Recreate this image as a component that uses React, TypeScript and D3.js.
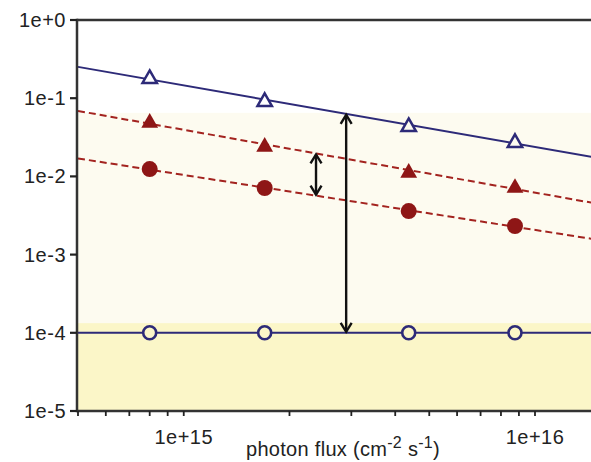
import React from "react"
import * as d3 from "d3"

// photon flux (cm^-2 s^-1) for every series
const flux = [8.0e14, 1.7e15, 4.37e15, 8.77e15]

// open triangles / filled triangles / filled circles / open circles
const openTri = [0.181, 0.092, 0.044, 0.0275]
const fillTri = [0.0496, 0.0245, 0.0114, 0.0073]
const fillCirc = [0.0124, 0.0071, 0.0036, 0.00232]
const openCirc = [1e-4, 1e-4, 1e-4, 1e-4]

const yTicks = [1, 1e-1, 1e-2, 1e-3, 1e-4, 1e-5]
const yTickLabels = ["1e+0", "1e-1", "1e-2", "1e-3", "1e-4", "1e-5"]
const xTicks = [1e15, 1e16]
const xTickLabels = ["1e+15", "1e+16"]
const xMinor = [5e14, 6e14, 7e14, 8e14, 9e14, 2e15, 3e15, 4e15, 5e15, 6e15, 7e15, 8e15, 9e15]

// shaded bands (value space)
const bandCream = [1.33e-4, 0.065]
const bandYellow = [1e-5, 1.33e-4]

// arrows: x position
const arrowLong = 2.9e15
const arrowShort = 2.38e15

const W = 591
const H = 462
const L = 77
const T = 20
const B = 411

const navy = "#2d2a78"
const red = "#8e1616"
const dashRed = "#a3231f"

// least squares in log-log space
const fit = (xs: number[], ys: number[]) => {
  const lx = xs.map(Math.log10)
  const ly = ys.map(Math.log10)
  const mx = d3.mean(lx) as number
  const my = d3.mean(ly) as number
  let num = 0
  let den = 0
  lx.forEach((v, i) => {
    num += (v - mx) * (ly[i] - my)
    den += (v - mx) * (v - mx)
  })
  const b = den === 0 ? 0 : num / den
  return (x: number) => Math.pow(10, my + b * (Math.log10(x) - mx))
}

export default function App() {
  const x = d3.scaleLog().domain([5e14, 1e16]).range([78, 535])
  const y = d3.scaleLog().domain([1e-5, 1]).range([B, T])

  const xEnd = x.invert(W + 5)
  const xs = [5e14, xEnd]

  const fTri = fit(flux, openTri)
  const fFTri = fit(flux, fillTri)
  const fFCirc = fit(flux, fillCirc)
  const fOCirc = fit(flux, openCirc)

  const line = (f: (v: number) => number) =>
    d3.line<number>().x(d => x(d)).y(d => y(f(d)))(xs) as string

  const bgAt = (v: number) =>
    v < bandCream[0] ? "#fbf6c8" : v < bandCream[1] ? "#fdfbf0" : "#ffffff"

  const tri = (cx: number, cy: number, s: number) =>
    `M${cx},${cy - s * 0.85} L${cx + s * 0.8},${cy + s * 0.55} L${cx - s * 0.8},${cy + s * 0.55} Z`

  const arrow = (xv: number, top: number, bot: number, k: string) => {
    const ax = x(xv)
    const y1 = y(top) + 1
    const y2 = y(bot) - 1
    const h = 9
    const w = 5.5
    return (
      <g key={k} stroke="#111" strokeWidth={2.4} fill="none">
        <line x1={ax} x2={ax} y1={y1} y2={y2} />
        <path d={`M${ax - w},${y1 + h} L${ax},${y1} L${ax + w},${y1 + h}`} />
        <path d={`M${ax - w},${y2 - h} L${ax},${y2} L${ax + w},${y2 - h}`} />
      </g>
    )
  }

  const font = "'Liberation Sans', Arial, sans-serif"
  const fs = 20

  return (
    <svg width={W} height={H} style={{ position: "absolute", left: 0, top: 0, display: "block" }}
      fontFamily={font}>
      <defs>
        <clipPath id="plot">
          <rect x={L} y={T} width={W - L} height={B - T} />
        </clipPath>
      </defs>
      <rect width={W} height={H} fill="#fff" />
      <rect x={L} y={y(bandCream[1])} width={W - L} height={y(bandCream[0]) - y(bandCream[1])} fill="#fdfbf0" />
      <rect x={L} y={y(bandYellow[1])} width={W - L} height={y(bandYellow[0]) - y(bandYellow[1])} fill="#fbf6c8" />

      <g clipPath="url(#plot)" fill="none">
        <path d={line(fTri)} stroke={navy} strokeWidth={2} />
        <path d={line(fOCirc)} stroke={navy} strokeWidth={2} />
        <path d={line(fFTri)} stroke={dashRed} strokeWidth={2} strokeDasharray="7,4" />
        <path d={line(fFCirc)} stroke={dashRed} strokeWidth={2} strokeDasharray="7,4" />
      </g>

      {arrow(arrowLong, fTri(arrowLong), fOCirc(arrowLong), "long")}
      {arrow(arrowShort, fFTri(arrowShort), fFCirc(arrowShort), "short")}

      {flux.map((f, i) => (
        <path key={"ot" + i} d={tri(x(f), y(openTri[i]), 9)} fill={bgAt(openTri[i])} stroke={navy} strokeWidth={2.5} />
      ))}
      {flux.map((f, i) => (
        <path key={"ft" + i} d={tri(x(f), y(fillTri[i]), 10.5)} fill={red} />
      ))}
      {flux.map((f, i) => (
        <circle key={"fc" + i} cx={x(f)} cy={y(fillCirc[i])} r={8} fill={red} />
      ))}
      {flux.map((f, i) => (
        <circle key={"oc" + i} cx={x(f)} cy={y(openCirc[i])} r={6.5} fill={bgAt(openCirc[i])} stroke={navy} strokeWidth={2.6} />
      ))}

      {/* frame */}
      <g stroke="#333" strokeWidth={2.5}>
        <line x1={L} x2={W} y1={T} y2={T} />
        <line x1={L} x2={W} y1={B} y2={B} />
        <line x1={L} x2={L} y1={T - 1.2} y2={B + 1.2} />
      </g>

      {yTicks.map((t, i) => (
        <g key={"yt" + i}>
          <line x1={70} x2={L} y1={y(t)} y2={y(t)} stroke="#222" strokeWidth={2.2} />
          <text x={66} y={y(t)} dy="0.35em" textAnchor="end" fontSize={fs} letterSpacing={0.5} fill="#222">{yTickLabels[i]}</text>
        </g>
      ))}

      {xMinor.concat(xTicks).map((t, i) => (
        <line key={"xm" + i} x1={x(t)} x2={x(t)} y1={B} y2={B + 5} stroke="#222" strokeWidth={1.8} />
      ))}
      {xTicks.map((t, i) => (
        <text key={"xl" + i} x={x(t)} y={444} textAnchor="middle" fontSize={fs} letterSpacing={0.5} fill="#222">{xTickLabels[i]}</text>
      ))}

      <text x={343} y={456} textAnchor="middle" fontSize={fs} letterSpacing={0.3} fill="#222">
        photon flux (cm<tspan dy={-8} fontSize={16}>-2</tspan><tspan dy={8}> s</tspan><tspan dy={-8} fontSize={16}>-1</tspan><tspan dy={8}>)</tspan>
      </text>
    </svg>
  )
}
